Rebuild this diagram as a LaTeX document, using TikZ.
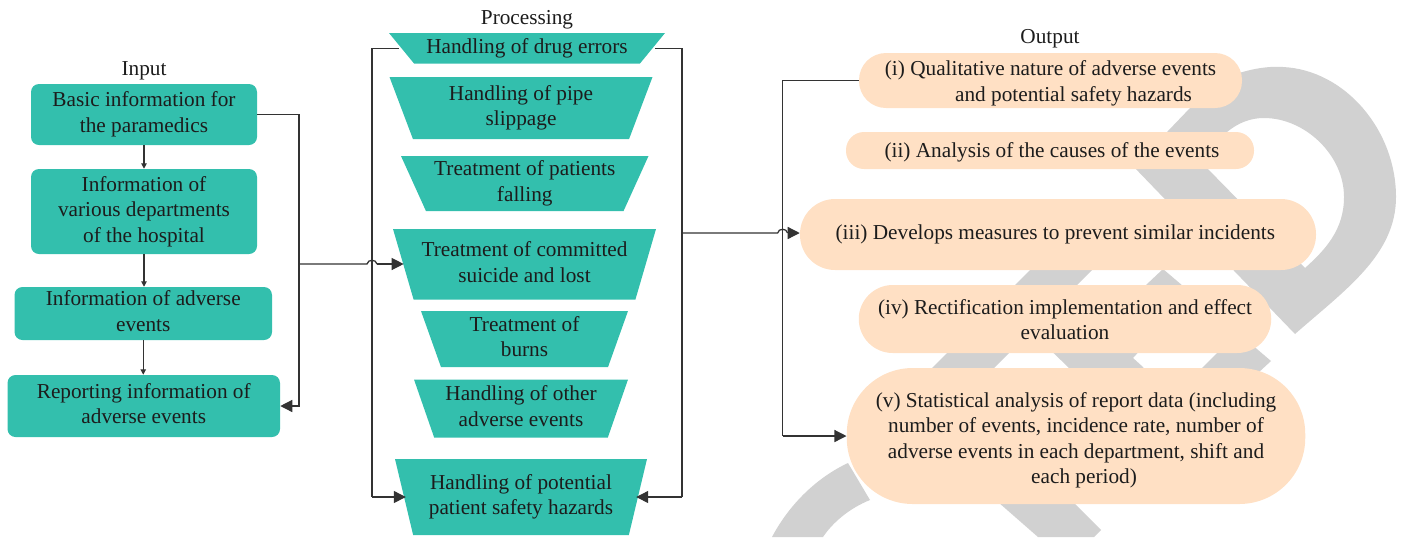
\documentclass[tikz,border=0pt]{standalone}
\usepackage{fontspec}
\setmainfont{Liberation Serif}
\usetikzlibrary{arrows.meta,shapes.geometric}
\definecolor{teal1}{HTML}{33BFAD}
\definecolor{peach}{HTML}{FFE0C4}
\definecolor{band}{HTML}{D1D1D1}
\definecolor{ink}{HTML}{1C1C1C}
\definecolor{wire}{HTML}{333333}
\newcommand{\tl}[1]{\makebox[0pt]{\begin{tabular}{@{}c@{}}#1\end{tabular}}}
\tikzset{
  txt/.style={font=\fontsize{15.95}{19.1}\selectfont,text=ink,inner sep=0pt},
  sized/.style n args={2}{minimum width=#1*0.75pt,minimum height=#2*0.75pt},
  tealbox/.style n args={2}{txt,rectangle,fill=teal1,rounded corners=6pt,sized={#1}{#2}},
  peachbox/.style n args={3}{txt,rectangle,fill=peach,rounded corners=#3*0.75pt,sized={#1}{#2}},
  trap/.style n args={3}{txt,trapezium,trapezium stretches body=true,shape border rotate=180,fill=teal1,trapezium angle=#3,sized={#1}{#2}},
  wireline/.style={draw=wire,line width=0.95pt},
  bigarrow/.style={wireline,-{Triangle[length=9pt,width=9pt]}},
  smallarrow/.style={draw=wire,line width=0.8pt,-{Triangle[length=4pt,width=4pt]}},
  bandfill/.style={fill=band,draw=none}
}
\begin{document}
\begin{tikzpicture}[x=0.75pt,y=-0.75pt]
\useasboundingbox (0,0) rectangle (1406,537);
% background ribbons
\begin{scope}
\clip (0,0) rectangle (1406,537);
\path[bandfill] (1132,165) -- (1295,334) .. controls (1345,290) and (1396,255) .. (1396,197)
  .. controls (1396,130) and (1345,70) .. (1283,67) .. controls (1270,66) and (1250,68) .. (1225,78)
  -- (1190,108) -- (1167,132) -- (1167,150) -- (1227,150) -- (1227,132)
  .. controls (1238,123) and (1250,118) .. (1264,118) .. controls (1305,118) and (1344,155) .. (1344,197)
  .. controls (1344,230) and (1325,250) .. (1305,268) -- (1204,165) -- cycle;
\path[bandfill] (1045,255) -- (1107,255) -- (980,382) -- (918,382) -- cycle;
\path[bandfill] (1163,269) -- (1271,361) -- (1245,385) -- (1195,375) -- (1225,345) -- (1146,345) -- (1146,285) -- cycle;
\path[bandfill] (1040,340) -- (1068,367) -- (1080,380) -- (1150,380) -- (1143,367) -- (1133,358) -- (1145,345) -- cycle;
\path[bandfill] (990,495) -- (1066,495) -- (1101,530) -- (1094,537) -- (1038,537) -- cycle;
\path[bandfill] (848,463) .. controls (818,477) and (790,503) .. (772,537) -- (823,537) .. controls (833,522) and (850,508) .. (870,500) -- cycle;
\end{scope}
% titles
\node[txt] (tin) at (144,71) {Input};
\node[txt] (tpr) at (527,20) {Processing};
\node[txt] (tou) at (1050,39) {Output};
% input column
\node[tealbox={226}{61}] (b1) at (144,114.5) {\tl{Basic information for\\the paramedics}};
\node[tealbox={226}{85}] (b2) at (144,211.5) {\tl{Information of\\various departments\\of the hospital}};
\node[tealbox={257.5}{53}] (b3) at (143.25,313.5) {\tl{Information of adverse\\events}};
\node[tealbox={272.5}{62}] (b4) at (143.75,406) {\tl{Reporting information of\\adverse events}};
% processing column
\node[trap={276}{30.5}{45.5}] (t1) at (527,48.25) {\tl{Handling of drug errors}};
\node[trap={263}{62}{65.3}] (t2) at (521,108) {\tl{Handling of pipe\\slippage}};
\node[trap={247.5}{55}{63.9}] (t3) at (524.75,183.5) {\tl{Treatment of patients\\falling}};
\node[trap={263}{70.5}{68}] (t4) at (524.5,264.25) {\tl{Treatment of committed\\suicide and lost}};
\node[trap={207}{56}{68.6}] (t5) at (524.5,339) {\tl{Treatment of\\burns}};
\node[trap={214}{58}{68.4}] (t6) at (521,408.5) {\tl{Handling of other\\adverse events}};
\node[trap={252}{76}{70.4}] (t7) at (521,497) {\tl{Handling of potential\\patient safety hazards}};
% output column
\node[peachbox={383}{55}{27}] (o1) at (1050.5,80.5) {\tl{(i) Qualitative nature of adverse events\\\hspace*{34.5pt}and potential safety hazards\\[-4.5pt]}};
\node[peachbox={408}{37}{18}] (o2) at (1050,150.5) {\tl{\hspace*{3pt}(ii) Analysis of the causes of the events\\[-3pt]}};
\node[peachbox={516}{71}{35}] (o3) at (1058,234.5) {\tl{(iii) Develops measures to prevent similar incidents\hspace*{4pt}\\[-0.5pt]}};
\node[peachbox={412.5}{68}{34}] (o4) at (1065,319) {\tl{(iv) Rectification implementation and effect\\evaluation\\[-4.5pt]}};
\node[peachbox={458.5}{136}{66}] (o5) at (1076,436) {\tl{(v) Statistical analysis of report data (including\\number of events, incidence rate, number of\\adverse events in each department, shift and\\\hspace*{12pt}each period)\\[-6.8pt]}};
% wiring coordinates
\coordinate (busA) at (299,264);
\coordinate (busB) at (372,264);
\coordinate (busC) at (682,233);
\coordinate (busD) at (782.6,233);
% input column arrows
\draw[smallarrow] (b1.south) -- (b2.north);
\draw[smallarrow] (b2.south) -- (b2.south |- b3.north);
\draw[smallarrow] (b3.south) -- (b3.south |- b4.north);
% left bus
\draw[bigarrow] (b1.east) -- (busA |- b1.east) -- (busA |- b4.east) -- (b4.east);
\draw[wireline,shorten <=1.5pt] (t1.west) -- (busB |- t1.west) -- (busB |- t7.west);
\draw[bigarrow,shorten >=-1.5pt] (busB |- t7.west) -- (t7.west);
\draw[wireline,shorten <=1.5pt] (t1.east) -- (busC |- t1.east) -- (busC |- t7.east);
\draw[bigarrow,shorten >=-1.5pt] (busC |- t7.east) -- (t7.east);
\draw[wireline] (busA) -- (367,264) .. controls (368,259) and (376,259) .. (377,264);
\draw[bigarrow,shorten >=-0.5pt] (377,264) -- (t4.west |- busA);
% right bus
\draw[wireline] (busC) -- (777.6,233) .. controls (778.6,228) and (786.6,228) .. (787.6,233);
\draw[bigarrow] (787.6,233) -- (o3.west |- busC);
\draw[wireline] (o1.west) -- (busD |- o1.west) -- (busD |- o5.west);
\draw[bigarrow] (busD |- o5.west) -- (o5.west);
\end{tikzpicture}
\end{document}
